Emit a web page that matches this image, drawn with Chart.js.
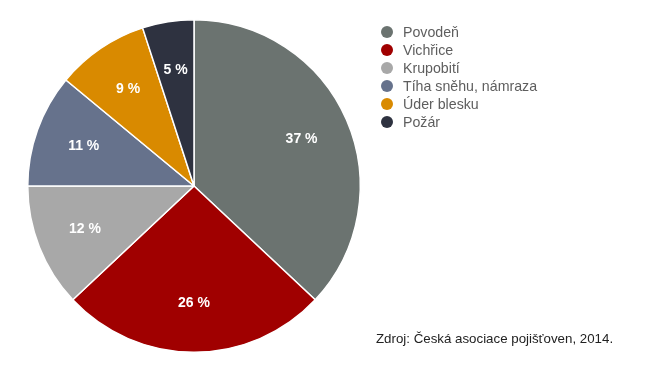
<!DOCTYPE html>
<html><head><meta charset="utf-8">
<script src="https://cdn.jsdelivr.net/npm/chart.js@4/dist/chart.umd.min.js"></script>
<style>
html,body{margin:0;padding:0;background:#fff;}
#wrap{position:relative;width:658px;height:371px;}
</style></head>
<body><div id="wrap"><canvas id="c" width="658" height="371"></canvas></div>
<script>
const categories = ["Povodeň","Vichřice","Krupobití","Tíha sněhu, námraza","Úder blesku","Požár"];
const values = [37,26,12,11,9,5];
const valueLabels = ["37 %","26 %","12 %","11 %","9 %","5 %"];
const colors = ["#6b7370","#a00000","#a8a8a8","#66728c","#d98a00","#2e3240"];
const sourceText = "Zdroj: Česká asociace pojišťoven, 2014.";
const FONT = "'Liberation Sans', Arial, Helvetica, sans-serif";

const labelPlugin = {
  id:'labels',
  afterDatasetsDraw(chart){
    const ctx = chart.ctx;
    const meta = chart.getDatasetMeta(0);
    ctx.save();
    ctx.font = "bold 14px " + FONT;
    ctx.fillStyle = "#fff";
    ctx.textAlign = "center";
    ctx.textBaseline = "middle";
    meta.data.forEach((arc,i)=>{
      const p = arc.getProps(['x','y','startAngle','endAngle','outerRadius'],true);
      const a = (p.startAngle+p.endAngle)/2;
      const r = p.outerRadius*0.705;
      ctx.fillText(valueLabels[i], p.x+Math.cos(a)*r, p.y+Math.sin(a)*r);
    });
    // legend
    ctx.textAlign = "left";
    ctx.font = "14.2px " + FONT;
    categories.forEach((c,i)=>{
      const y = 32 + i*18;
      ctx.beginPath();
      ctx.arc(387, y, 6, 0, Math.PI*2);
      ctx.fillStyle = colors[i];
      ctx.fill();
      ctx.fillStyle = "#5e5e5e";
      ctx.fillText(c, 403, y+1);
    });
    ctx.font = "13.3px " + FONT;
    ctx.fillStyle = "#222";
    ctx.fillText(sourceText, 376, 339);
    ctx.restore();
  }
};

new Chart(document.getElementById('c'), {
  type:'pie',
  data:{labels:categories, datasets:[{data:values, backgroundColor:colors, borderColor:"#fff", borderWidth:1.5}]},
  options:{
    responsive:false, animation:false,
    layout:{padding:{left:27,top:19,right:297,bottom:18}},
    plugins:{legend:{display:false}, tooltip:{enabled:false}}
  },
  plugins:[labelPlugin]
});
</script></body></html>
